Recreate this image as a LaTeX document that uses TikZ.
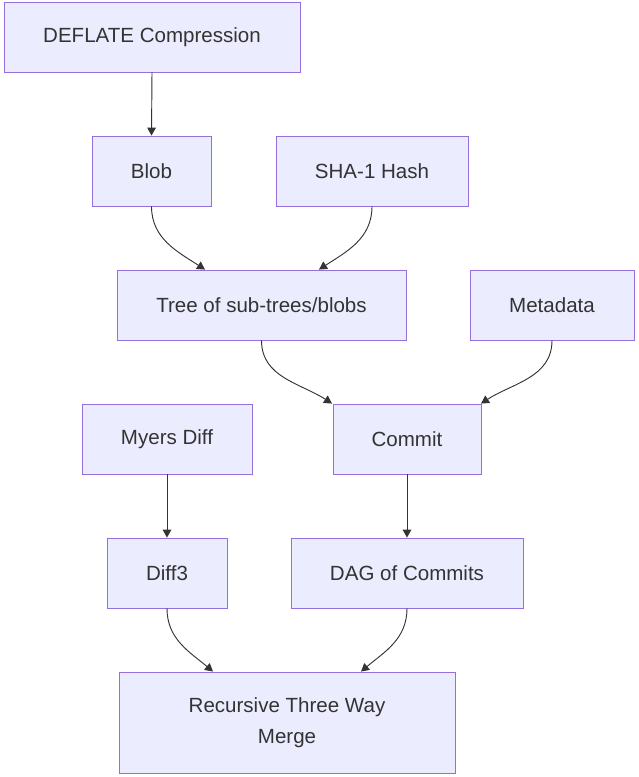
\documentclass[tikz,border=0pt]{standalone}
\usepackage{fontspec}
\setmainfont{Liberation Sans}
\usetikzlibrary{arrows.meta,calc}
\definecolor{boxfill}{HTML}{ECECFF}
\definecolor{boxline}{HTML}{9370DB}
\definecolor{txt}{HTML}{333333}
\tikzset{
  box/.style={draw=boxline, fill=boxfill, line width=0.65pt, text=txt, rectangle, inner sep=0pt,
    font=\fontsize{15.4}{23.2}\selectfont, align=center},
  link/.style={draw=txt, line width=0.7pt, -{Triangle[length=6pt,width=6.5pt]}}
}
\newcommand{\bx}[5]{% name, cx, cy, w, h
  \node[box, minimum width={#4*0.75pt}, minimum height={#5*0.75pt}] (#1) at (#2,#3)}
\begin{document}
\begin{tikzpicture}[x=0.75pt,y=-0.75pt]
\useasboundingbox (0,0) rectangle (638,777);
\bx{deflate}{152}{37}{296}{70} {DEFLATE Compression};
\bx{blob}{151.5}{171}{119}{70} {Blob};
\bx{sha}{372}{171}{192}{70} {SHA-1 Hash};
\bx{tree}{261.5}{305}{289}{70} {Tree of sub-trees/blobs};
\bx{meta}{552}{305}{164}{70} {Metadata};
\bx{myers}{167}{439}{170}{70} {Myers Diff};
\bx{commit}{407}{439}{148}{70} {Commit};
\bx{diffthree}{167}{573}{120}{70} {Diff3};
\bx{dag}{407}{573}{232}{70} {DAG of Commits};
\bx{merge}{287}{722.5}{336}{101} {Recursive Three Way\\Merge};

\draw[link] (deflate.south) -- (blob.north);
\draw[link] (blob.south) to[out=-90,in=147] ($(tree.north)+(-56.5,0)$);
\draw[link] (sha.south) to[out=-90,in=33] ($(tree.north)+(57.5,0)$);
\draw[link] (tree.south) to[out=-90,in=147] ($(commit.north)+(-75,0)$);
\draw[link] (meta.south) to[out=-90,in=33] ($(commit.north)+(74,0)$);
\draw[link] (myers.south) -- (diffthree.north);
\draw[link] (commit.south) -- (dag.north);
\draw[link] (diffthree.south) to[out=-90,in=140] ($(merge.north)+(-74,0)$);
\draw[link] (dag.south) to[out=-90,in=40] ($(merge.north)+(74,0)$);
\end{tikzpicture}
\end{document}
